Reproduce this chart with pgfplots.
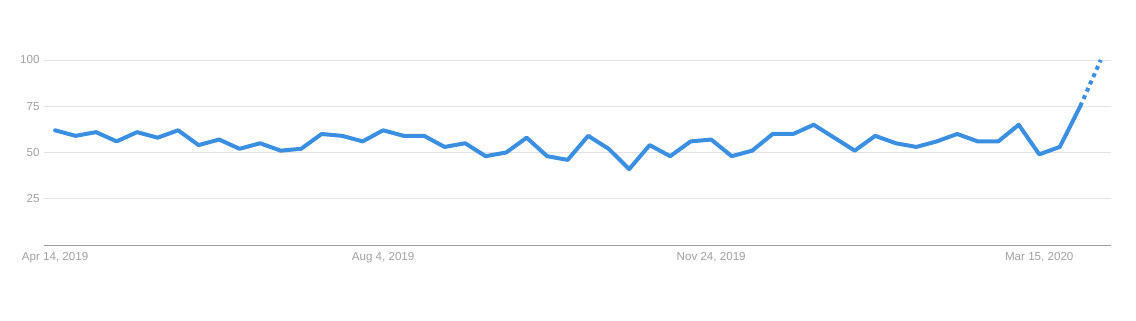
\documentclass[border=0pt]{standalone}
\usepackage{fontspec}
\setmainfont{Liberation Sans}
\usepackage{pgfplots}
\pgfplotsset{compat=1.18}
\definecolor{trend}{HTML}{3A8FE0}
\definecolor{gridc}{HTML}{E2E2E2}
\definecolor{labc}{HTML}{A0A0A0}
\definecolor{basec}{HTML}{9E9E9E}
\begin{document}
\begin{tikzpicture}[x=1pt,y=1pt]
\begin{axis}[
  scale only axis,
  width=1067pt, height=185pt,
  xmin=-0.54, xmax=51.5,
  ymin=0, ymax=100,
  axis x line*=bottom,
  axis y line*=left,
  y axis line style={draw=none},
  x axis line style={draw=basec, line width=0.8pt},
  ymajorgrids,
  grid style={draw=gridc, line width=0.8pt},
  major tick length=0pt,
  ytick={25,50,75,100},
  xtick={0,16,32,48},
  xticklabels={{Apr 14, 2019},{Aug 4, 2019},{Nov 24, 2019},{Mar 15, 2020}},
  /pgf/number format/assume math mode=true,
  tick label style={font=\fontsize{11.6}{13}\selectfont, text=labc},
  yticklabel style={anchor=east, xshift=-1pt},
  xticklabel style={anchor=north, yshift=-3.5pt},
  clip=false,
]
\addplot[draw=trend, line width=4pt, line join=round, line cap=round] coordinates {
(0,62) (1,59) (2,61) (3,56) (4,61) (5,58) (6,62) (7,54) (8,57) (9,52)
(10,55) (11,51) (12,52) (13,60) (14,59) (15,56) (16,62) (17,59) (18,59) (19,53)
(20,55) (21,48) (22,50) (23,58) (24,48) (25,46) (26,59) (27,52) (28,41) (29,54)
(30,48) (31,56) (32,57) (33,48) (34,51) (35,60) (36,60) (37,65) (38,58) (39,51)
(40,59) (41,55) (42,53) (43,56) (44,60) (45,56) (46,56) (47,65) (48,49) (49,53)
(50,75)
};
\addplot[draw=trend, line width=4pt, line cap=butt, dash pattern=on 4pt off 4pt] coordinates {
(50,75) (51,100)
};
\end{axis}
\path[use as bounding box] ([xshift=-44pt,yshift=-75pt]current axis.south west) rectangle ([xshift=25pt,yshift=60pt]current axis.north east);
\end{tikzpicture}
\end{document}
